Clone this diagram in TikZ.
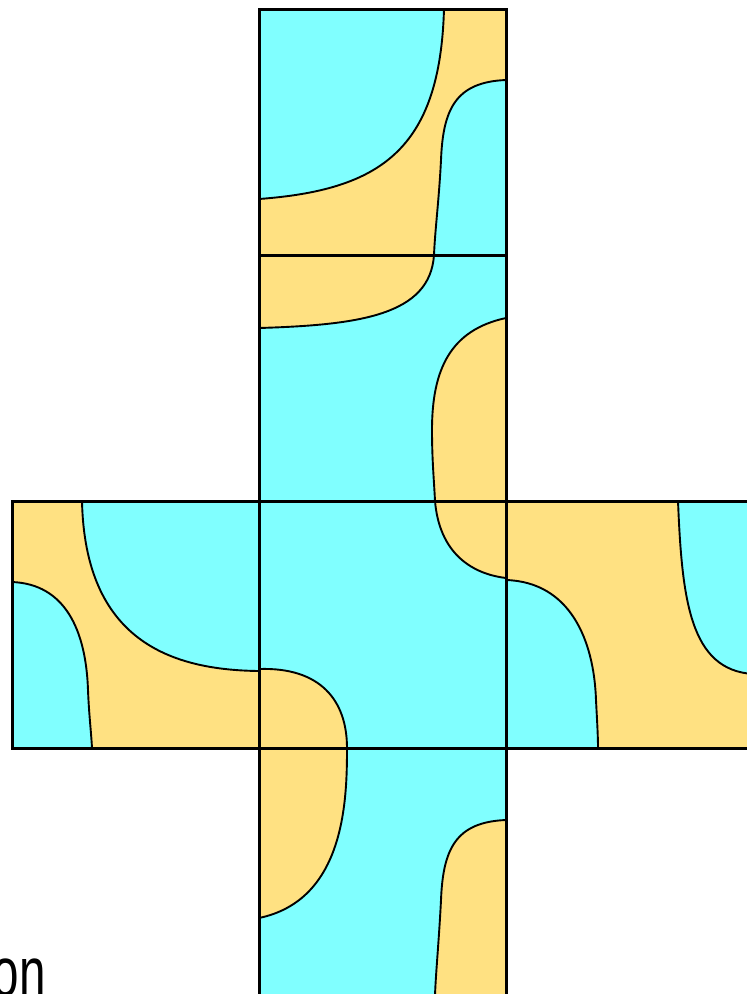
\documentclass[tikz,border=0pt]{standalone}
\usepackage{fontspec}
\setmainfont{Liberation Sans}
\definecolor{cy}{RGB}{128,255,255}
\definecolor{ye}{RGB}{255,225,130}
\begin{document}
\begin{tikzpicture}[x=1pt,y=-1pt,
  cyreg/.style={fill=cy,draw=black,line width=1.9pt},
  yereg/.style={fill=ye,draw=black,line width=1.9pt},
  face/.style={draw=black,line width=3pt}]
\useasboundingbox (0,0) rectangle (747,994);
\clip (0,0) rectangle (747,994);
% ---------- top face ----------
\fill[ye] (259,9) rectangle (506,255);
\filldraw[cyreg] (444,9) .. controls (440,150) and (380,190) .. (259,199) -- (259,9) -- cycle;
\filldraw[cyreg] (506,80) .. controls (455,82) and (443,110) .. (441,160) .. controls (439,200) and (435,230) .. (434,255) -- (506,255) -- cycle;
% ---------- second face ----------
\fill[cy] (259,255) rectangle (506,501);
\filldraw[yereg] (434,255) .. controls (430,315) and (360,325) .. (259,328) -- (259,255) -- cycle;
\filldraw[yereg] (506,318) .. controls (450,330) and (432,370) .. (432,430) .. controls (432,460) and (434,480) .. (435,501) -- (506,501) -- cycle;
% ---------- centre face ----------
\fill[cy] (259,501) rectangle (506,748);
\filldraw[yereg] (435,501) .. controls (440,560) and (480,575) .. (506,578) -- (506,501) -- cycle;
\filldraw[yereg] (259,669) .. controls (320,667) and (347,700) .. (347,748) -- (259,748) -- cycle;
% ---------- left face ----------
\fill[ye] (12,501) rectangle (259,748);
\filldraw[cyreg] (82,501) .. controls (85,640) and (170,670) .. (259,671) -- (259,501) -- cycle;
\filldraw[cyreg] (12,582) .. controls (65,584) and (86,630) .. (88,690) .. controls (89,715) and (91,730) .. (92,748) -- (12,748) -- cycle;
% ---------- right face ----------
\fill[ye] (506,501) rectangle (753,748);
\filldraw[cyreg] (506,580) .. controls (570,582) and (594,640) .. (596,700) .. controls (597,720) and (598,735) .. (598,748) -- (506,748) -- cycle;
\filldraw[cyreg] (678,501) .. controls (682,600) and (690,670) .. (753,674) -- (753,501) -- cycle;
% ---------- bottom face ----------
\fill[cy] (259,748) rectangle (506,995);
\filldraw[yereg] (347,748) .. controls (347,800) and (345,900) .. (259,918) -- (259,748) -- cycle;
\filldraw[yereg] (506,820) .. controls (455,822) and (443,850) .. (441,900) .. controls (439,940) and (436,970) .. (435,995) -- (506,995) -- cycle;
% ---------- face borders ----------
\draw[face] (259,9) rectangle (506,255);
\draw[face] (259,255) rectangle (506,501);
\draw[face] (259,501) rectangle (506,748);
\draw[face] (12,501) rectangle (259,748);
\draw[face] (506,501) rectangle (753,748);
\draw[face] (259,748) rectangle (506,995);
% ---------- text ----------
\node[anchor=base east,inner sep=0pt,font=\fontsize{70}{70}\selectfont,xscale=0.68] (lbl) at (46,996) {on};
\end{tikzpicture}
\end{document}
